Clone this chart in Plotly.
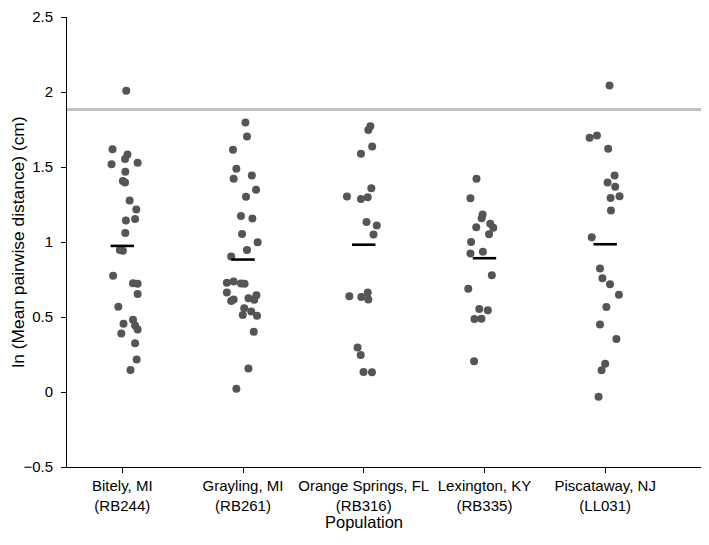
import plotly.graph_objects as go

populations = ["Bitely, MI<br>(RB244)", "Grayling, MI<br>(RB261)", "Orange Springs, FL<br>(RB316)",
               "Lexington, KY<br>(RB335)", "Piscataway, NJ<br>(LL031)"]

bitely = [2.008, 1.619, 1.584, 1.554, 1.519, 1.528, 1.468, 1.407, 1.396, 1.277, 1.216, 1.143, 1.154,
          1.060, 0.946, 0.942, 0.775, 0.725, 0.721, 0.654, 0.569, 0.482, 0.455, 0.444, 0.416, 0.390,
          0.325, 0.216, 0.147]
bitely_jitter = [0.033, -0.081, 0.043, 0.023, -0.089, 0.127, 0.025, 0.005, 0.023, 0.061, 0.116, 0.030,
                 0.106, 0.025, -0.020, 0.005, -0.076, 0.089, 0.127, 0.127, -0.033, 0.089, 0.010, 0.106,
                 0.127, -0.008, 0.106, 0.119, 0.068]

grayling = [1.797, 1.703, 1.615, 1.489, 1.422, 1.444, 1.349, 1.301, 1.173, 1.156, 1.054, 0.998, 0.946,
            0.903, 0.729, 0.736, 0.723, 0.721, 0.664, 0.606, 0.617, 0.625, 0.645, 0.615, 0.558, 0.537,
            0.513, 0.508, 0.401, 0.156, 0.021]
grayling_jitter = [0.020, 0.033, -0.083, -0.055, -0.078, 0.073, 0.108, 0.025, -0.017, 0.078, -0.008,
                   0.121, 0.033, -0.098, -0.134, -0.078, -0.017, 0.013, -0.134, -0.098, -0.078, 0.045,
                   0.111, 0.093, 0.010, 0.068, -0.002, 0.116, 0.089, 0.045, -0.055]

orange = [1.771, 1.747, 1.636, 1.589, 1.359, 1.303, 1.286, 1.299, 1.134, 1.110, 1.050, 0.638, 0.634,
          0.664, 0.617, 0.297, 0.247, 0.134, 0.132]
orange_jitter = [0.055, 0.038, 0.070, -0.023, 0.063, -0.139, -0.023, 0.033, 0.023, 0.108, 0.081,
                 -0.119, -0.020, 0.033, 0.038, -0.051, -0.025, -0.002, 0.068]

lexington = [1.422, 1.292, 1.184, 1.158, 1.099, 1.121, 1.095, 1.052, 1.000, 0.924, 0.935, 0.779, 0.688,
             0.554, 0.545, 0.487, 0.489, 0.205]
lexington_jitter = [-0.066, -0.116, -0.015, -0.023, -0.068, 0.048, 0.073, 0.038, -0.111, -0.116, -0.013,
                    0.061, -0.134, -0.043, 0.028, -0.083, -0.025, -0.086]

piscataway = [2.043, 1.695, 1.710, 1.621, 1.444, 1.396, 1.368, 1.294, 1.305, 1.210, 1.032, 0.823, 0.758,
              0.719, 0.649, 0.567, 0.450, 0.353, 0.188, 0.145, -0.032]
piscataway_jitter = [0.036, -0.129, -0.068, 0.025, 0.078, 0.020, 0.083, 0.045, 0.119, 0.048, -0.111,
                     -0.043, -0.023, 0.040, 0.114, 0.010, -0.043, 0.093, 0.0, -0.030, -0.055]

group_means = [0.974, 0.883, 0.982, 0.892, 0.985]
reference_level = 1.883

y_ticks = [-0.5, 0, 0.5, 1, 1.5, 2, 2.5]
y_ticktext = ["\u22120.5", "0", "0.5", "1", "1.5", "2", "2.5"]

groups = [bitely, grayling, orange, lexington, piscataway]
jitters = [bitely_jitter, grayling_jitter, orange_jitter, lexington_jitter, piscataway_jitter]

FONT = "Liberation Sans, Arial, Helvetica, sans-serif"
fig = go.Figure()

for i, (vals, jit) in enumerate(zip(groups, jitters)):
    fig.add_trace(go.Scatter(
        x=[i + j for j in jit], y=vals, mode="markers",
        marker=dict(color="#555555", size=8, line=dict(width=0)),
        showlegend=False, hoverinfo="y"))

half = 0.097
for i, m in enumerate(group_means):
    fig.add_trace(go.Scatter(
        x=[i - half, i + half], y=[m, m], mode="lines",
        line=dict(color="black", width=2.6), showlegend=False, hoverinfo="skip"))

fig.add_shape(type="line", xref="paper", x0=0, x1=1, yref="y", y0=reference_level, y1=reference_level,
              line=dict(color="#c0c0c0", width=3), layer="below")

fig.add_annotation(text="Population", xref="x", x=2, yref="paper", y=-0.122, yanchor="middle",
                   xanchor="center", showarrow=False, font=dict(size=16.5, family=FONT, color="black"))

fig.update_layout(
    width=709, height=545,
    margin=dict(l=59, r=8, t=9, b=85.5),
    paper_bgcolor="white", plot_bgcolor="white",
    font=dict(family=FONT, size=15, color="black"),
    xaxis=dict(
        range=[-0.458, 4.86], tickmode="array", tickvals=list(range(5)), ticktext=populations,
        showline=True, linecolor="black", linewidth=1, ticks="outside", ticklen=5, tickcolor="black",
        showgrid=False, zeroline=False, tickfont=dict(size=15), automargin=False),
    yaxis=dict(
        range=[-0.5, 2.5], tickmode="array", tickvals=y_ticks, ticktext=y_ticktext,
        showline=True, linecolor="black", linewidth=1, ticks="outside", ticklen=5, tickcolor="black",
        ticklabelstandoff=5, ticklabeloverflow="allow", automargin=False,
        showgrid=False, zeroline=False, tickfont=dict(size=15),
        title=dict(text="ln (Mean pairwise distance) (cm)", standoff=12, font=dict(size=17.4))),
)

fig.write_html("out.html")
